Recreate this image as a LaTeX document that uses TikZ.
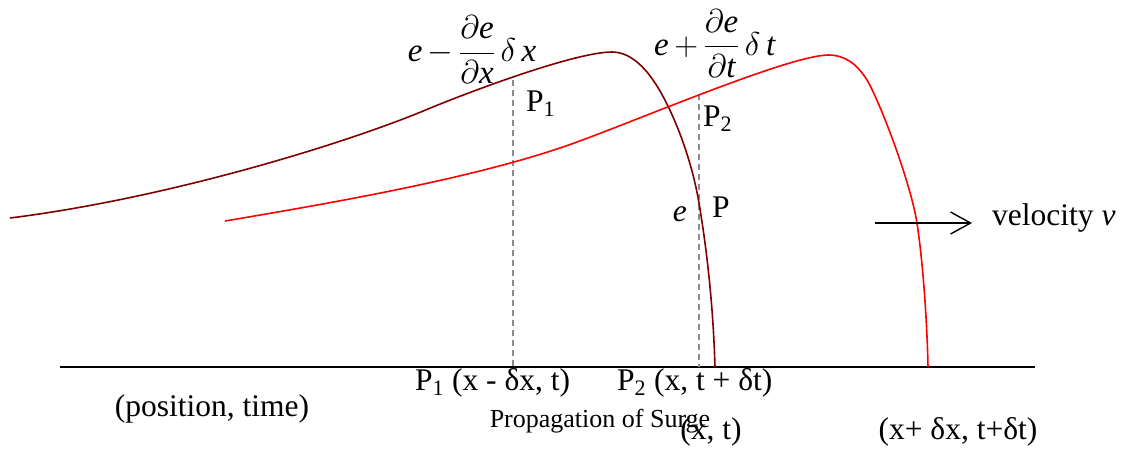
\RequirePackage{fix-cm}
\documentclass[tikz,border=0pt]{standalone}
\usepackage{amsmath}
\usepackage{fontspec}
\setmainfont{Liberation Serif}
\usetikzlibrary{arrows.meta}
\definecolor{maroonc}{RGB}{128,0,0}
\definecolor{redc}{RGB}{255,0,0}
\definecolor{dashc}{RGB}{140,140,140}
\begin{document}
\begin{tikzpicture}[x=1pt,y=-1pt,
  lbl/.style={inner sep=0pt,font=\fontsize{31.5}{36}\selectfont},
  eqn/.style={inner sep=0pt,font=\fontsize{33}{38}\selectfont},
  small/.style={inner sep=0pt,font=\fontsize{26}{30}\selectfont},
  guide/.style={dashc,line width=1.4pt,dash pattern=on 6pt off 4pt},
  wave/.style={line width=1.6pt}]
\useasboundingbox (0,0) rectangle (1122,448);
% axis
\coordinate (axL) at (60,367);
\coordinate (axR) at (1035,367);
\draw[line width=1.8pt] (axL) -- (axR);
% dashed guides
\coordinate (p1top) at (513,80);
\coordinate (p1bot) at (513,367);
\coordinate (p2top) at (699,94);
\coordinate (p2bot) at (699,367);
\draw[guide] (p1top) -- (p1bot);
\draw[guide] (p2top) -- (p2bot);
% dark wave
\draw[wave,maroonc] (10,218) .. controls (170,198) and (350,142) .. (428,109)
  .. controls (469,92) and (575,52) .. (612,52)
  .. controls (628,52) and (642,64) .. (653,80)
  .. controls (668,101) and (690,150) .. (699,203)
  .. controls (706,245) and (713,300) .. (715,367);
% red wave
\draw[wave,redc] (225,221) .. controls (350,200) and (470,178) .. (560,148)
  .. controls (620,128) and (785,56) .. (828,55)
  .. controls (845,55) and (857,64) .. (867,80)
  .. controls (879,100) and (910,180) .. (917,223)
  .. controls (923,263) and (927,320) .. (928,367);
% velocity arrow
\coordinate (vA) at (875,223);
\coordinate (vB) at (972,223);
\draw[line width=1.4pt,-{Straight Barb[length=20pt,width=22pt,line width=1.4pt]}] (vA) -- (vB);
\node[lbl,anchor=west] (vel) at (992,218) {velocity \textit{v}};
% equations
\node[eqn] (eqx) at (472,50) {\textit{e}\,$-$\,$\dfrac{\partial\textit{e}}{\partial\textit{x}}$\,$\delta$\,\textit{x}};
\node[eqn] (eqt) at (715,44) {\textit{e}\,$+$\,$\dfrac{\partial\textit{e}}{\partial\textit{t}}$\,$\delta$\,\textit{t}};
% point labels
\node[lbl,anchor=west] (P1) at (526,104) {P\textsubscript{1}};
\node[lbl,anchor=west] (P2) at (703,119) {P\textsubscript{2}};
\node[lbl,anchor=east] (e) at (687,214) {\textit{e}};
\node[lbl,anchor=west] (P) at (712,207) {P};
% bottom labels
\node[lbl] (pt) at (212,409) {(position, time)};
\node[lbl,anchor=west] (q1) at (415,383) {P\textsubscript{1} (x - δx, t)};
\node[lbl,anchor=west] (q2) at (617,383) {P\textsubscript{2} (x, t + δt)};
\node[small] (prop) at (600,421) {Propagation of Surge};
\node[lbl] (xt) at (711,432) {(x, t)};
\node[lbl] (xdt) at (958,432) {(x+ δx, t+δt)};
\end{tikzpicture}
\end{document}
